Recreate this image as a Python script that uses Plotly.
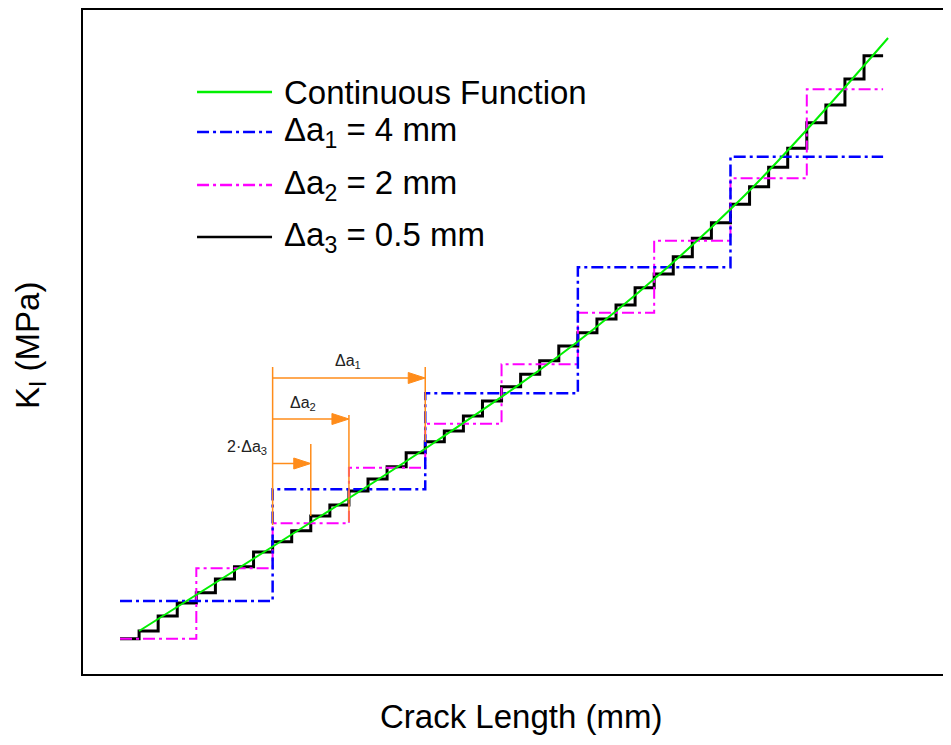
import plotly.graph_objects as go

# crack length steps (mm)
da1, da2, da3 = 4.0, 2.0, 0.5
a_end = 20.0

# stepped K_I levels (arbitrary MPa units)
k_da1 = [7.40, 18.57, 28.17, 40.77, 51.83]
k_da2 = [3.63, 10.67, 15.17, 20.73, 25.13, 31.07, 36.23, 43.43, 49.67, 58.57]
k_da3 = [3.63, 4.40, 5.90, 7.20, 8.23, 9.60, 10.83, 12.30,
         13.33, 14.43, 15.90, 17.00, 18.40, 19.60, 20.83, 22.23,
         23.33, 24.40, 25.90, 27.40, 28.83, 30.07, 31.43, 32.90,
         34.23, 35.60, 37.00, 38.73, 40.10, 41.83, 43.67, 45.23,
         47.07, 48.83, 50.77, 52.67, 55.23, 57.00, 59.60, 61.93]

# continuous function, sampled points
a_cont = [0.50, 4.19, 8.26, 12.32, 16.25, 20.13]
k_cont = [4.40, 13.3, 23.3, 34.3, 47.5, 63.7]

FONT = 'Liberation Sans, Arial, sans-serif'
ORANGE = '#FF8C1A'
GREEN = '#00F000'
DASHDOT = '12px,4px,3px,4px'


def step_xy(levels, step):
    # hv line: one tread per level, closed at a_end
    xs = [i * step for i in range(len(levels))] + [a_end]
    ys = list(levels) + [levels[-1]]
    return xs, ys


fig = go.Figure()

x3, y3 = step_xy(k_da3, da3)
fig.add_trace(go.Scatter(x=x3, y=y3, mode='lines', line_shape='hv',
                         line=dict(color='black', width=3)))
x2, y2 = step_xy(k_da2, da2)
fig.add_trace(go.Scatter(x=x2, y=y2, mode='lines', line_shape='hv',
                         line=dict(color='#FF00FF', width=2, dash=DASHDOT)))
x1, y1 = step_xy(k_da1, da1)
fig.add_trace(go.Scatter(x=x1, y=y1, mode='lines', line_shape='hv',
                         line=dict(color='#0000FF', width=2.5, dash=DASHDOT)))
fig.add_trace(go.Scatter(x=a_cont, y=k_cont, mode='lines', line_shape='spline',
                         line=dict(color=GREEN, width=2)))

# orange dimension lines for the step sizes
a0 = 4.0
dims = [
    # (end x, arrow y, vertical extent at end)
    (a0 + da1, 29.7, (23.3, 30.8)),
    (a0 + da2, 25.6, (15.3, 26.0)),
    (a0 + 2 * da3, 21.15, (15.9, 23.1)),
]
fig.add_shape(type='line', x0=a0, x1=a0, y0=15.0, y1=30.8,
              line=dict(color=ORANGE, width=1.5))
for x_end, y_arr, (yb, yt) in dims:
    fig.add_shape(type='line', x0=x_end, x1=x_end, y0=yb, y1=yt,
                  line=dict(color=ORANGE, width=1.5))
    fig.add_shape(type='line', x0=a0, x1=x_end - 0.3, y0=y_arr, y1=y_arr,
                  line=dict(color=ORANGE, width=1.5))
    fig.add_shape(type='path', xsizemode='pixel', ysizemode='pixel',
                  xanchor=x_end, yanchor=y_arr,
                  path='M-17,-5.5L0,0L-17,5.5Z',
                  fillcolor=ORANGE, line=dict(color=ORANGE, width=1))

labels = [
    (5.98, 31.4, 'Δa<sub>1</sub>'),
    (4.80, 27.2, 'Δa<sub>2</sub>'),
    (3.33, 22.8, '2·Δa<sub>3</sub>'),
]
for lx, ly, txt in labels:
    fig.add_annotation(x=lx, y=ly, text=txt, showarrow=False,
                       font=dict(family=FONT, size=16, color='#222222'))

# legend drawn by hand so the line samples are long like the original
legend_rows = [
    ('Continuous Function', GREEN, 'solid', 0.8765),
    ('Δa<sub>1</sub> = 4 mm', '#0000FF', DASHDOT, 0.8163),
    ('Δa<sub>2</sub> = 2 mm', '#FF00FF', DASHDOT, 0.7364),
    ('Δa<sub>3</sub> = 0.5 mm', 'black', 'solid', 0.6581),
]
for name, color, dash, ly in legend_rows:
    fig.add_shape(type='line', xref='paper', yref='paper',
                  x0=0.1326, x1=0.2198, y0=ly, y1=ly,
                  line=dict(color=color, width=2.5, dash=dash))
    fig.add_annotation(xref='paper', yref='paper', x=0.2314, y=ly,
                       xanchor='left', yanchor='middle', text=name,
                       showarrow=False,
                       font=dict(family=FONT, size=33, color='black'))

# axis titles
fig.add_annotation(xref='paper', yref='paper', x=0.509, y=-0.0945,
                   xanchor='center', yanchor='bottom',
                   text='Crack Length (mm)', showarrow=False,
                   font=dict(family=FONT, size=33, color='black'))
fig.add_annotation(xref='paper', yref='paper', x=-0.0616, y=0.494,
                   xanchor='center', yanchor='middle',
                   text='K<sub>I</sub> (MPa)', textangle=-90, showarrow=False,
                   font=dict(family=FONT, size=33, color='black'))

fig.update_layout(
    width=935, height=729,
    margin=dict(l=75, r=0, t=2, b=63),
    plot_bgcolor='white', paper_bgcolor='white',
    showlegend=False,
)
fig.update_xaxes(range=[-0.97, 21.57], showgrid=False, zeroline=False,
                 showticklabels=False, ticks='',
                 showline=True, mirror=True, linecolor='black', linewidth=2)
fig.update_yaxes(range=[0.1, 66.5], showgrid=False, zeroline=False,
                 showticklabels=False, ticks='',
                 showline=True, mirror=False, linecolor='black', linewidth=2)

fig.write_html("out.html")
